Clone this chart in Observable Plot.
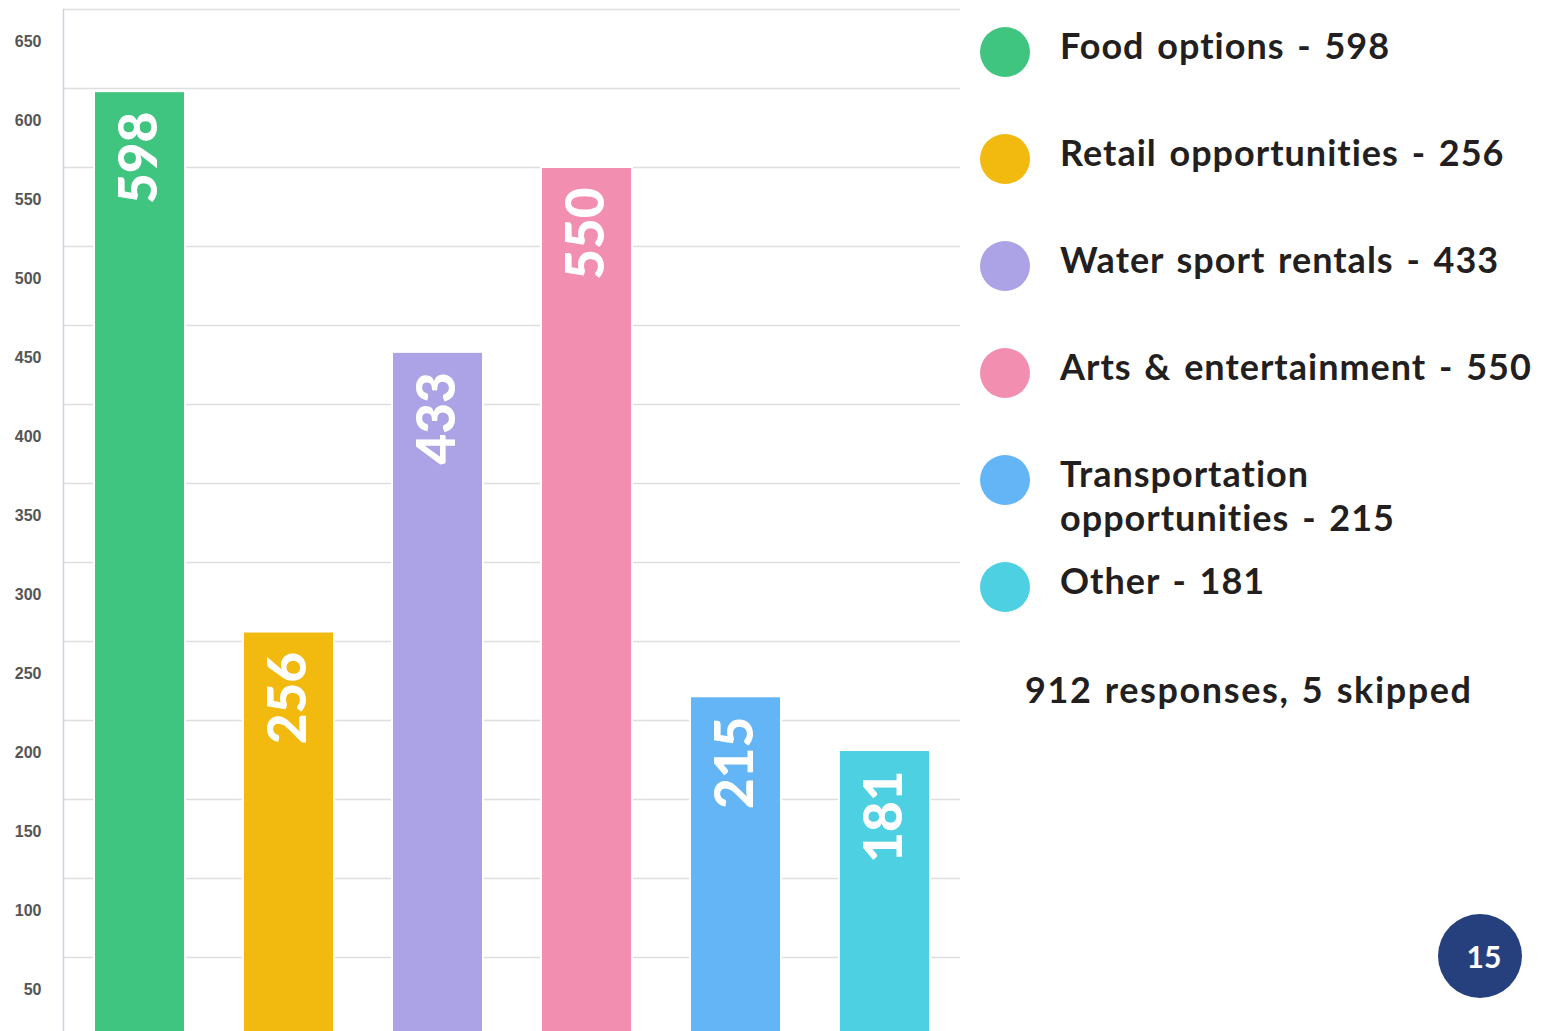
<!DOCTYPE html>
<html>
<head>
<meta charset="utf-8">
<script src="https://cdn.jsdelivr.net/npm/d3@7"></script>
<script src="https://cdn.jsdelivr.net/npm/@observablehq/plot@0.6"></script>
<style>
  html, body { margin: 0; padding: 0; background: #fff; }
  #wrap { position: relative; width: 1541px; height: 1031px; overflow: hidden; font-family: Lato, "Open Sans", sans-serif; }
  #chart { position: absolute; left: 0; top: 0; }
  .item { position: absolute; left: 980px; display: flex; align-items: flex-start; }
  .dot { width: 50px; height: 50px; border-radius: 50%; flex: none; }
  .lbl { margin-left: 30px; margin-top: -4px; width: 485px; font-size: 36px; line-height: 44px; font-weight: 700; color: #231f20; word-spacing: 3px; letter-spacing: 1px; }
  #resp { position: absolute; left: 1025px; top: 667px; font-size: 36px; line-height: 44px; font-weight: 700; color: #231f20; letter-spacing: 1.6px; word-spacing: 2px; }
  #page { position: absolute; left: 1438px; top: 914px; width: 84px; height: 84px; border-radius: 50%; background: #263f7d; color: #fff; font-size: 30px; font-weight: 700; display: flex; align-items: center; justify-content: center; padding-left: 8px; box-sizing: border-box; }
</style>
</head>
<body>
<div id="wrap">
  <div id="chart"></div>
  <div id="legend"></div>
  <div id="resp"></div>
  <div id="page"></div>
</div>
<script>
const categories = ["Food options", "Retail opportunities", "Water sport rentals", "Arts & entertainment", "Transportation opportunities", "Other"];
const values = [598, 256, 433, 550, 215, 181];
const colors = ["#40c580", "#f2b90f", "#aba3e5", "#f28fb0", "#64b5f6", "#4dd0e1"];
const yTicks = [50, 100, 150, 200, 250, 300, 350, 400, 450, 500, 550, 600, 650];
const responsesNote = "912 responses, 5 skipped";
const pageNumber = "15";

const data = categories.map((c, i) => ({cat: c, value: values[i]}));

const plot = Plot.plot({
  width: 1541,
  height: 1031,
  marginLeft: 63,
  marginRight: 581,
  marginTop: 9,
  marginBottom: 0,
  x: {domain: categories, range: [63, 960], paddingInner: 0.39, paddingOuter: 0.19, axis: null},
  y: {domain: [0, 650], range: [1036, 9], axis: null},
  color: {domain: categories, range: colors},
  marks: [
    Plot.gridY(yTicks, {stroke: "#dedede", strokeOpacity: 1, strokeWidth: 1.3}),
    Plot.barY(data, {x: "cat", y: "value", fill: "cat", stroke: "#ffffff", strokeWidth: 2}),
    Plot.text(data, {
      x: "cat", y: "value", text: d => String(d.value),
      rotate: -90, textAnchor: "end", lineAnchor: "middle", dy: 20,
      fill: "white", fontSize: 53, fontWeight: "900", fontFamily: "Lato, sans-serif",
      ariaLabel: "barlabels"
    }),
    Plot.axisY(yTicks, {
      anchor: "left", tickSize: 0, tickPadding: 22, dy: 32, label: null,
      fontSize: 16, fontWeight: "bold", fill: "#555", fontFamily: "'Liberation Sans', Arial, sans-serif"
    }),
    Plot.frame({anchor: "left", stroke: "#c5d3e8", strokeWidth: 1.5})
  ]
});
document.getElementById("chart").appendChild(plot);
d3.select(plot).selectAll('g[aria-label="barlabels"]').style("filter", "drop-shadow(2px 2px 4px rgba(0,0,0,0.5))");

const legend = d3.select("#legend");
categories.forEach((c, i) => {
  const item = legend.append("div").attr("class", "item").style("top", (27 + i * 107) + "px");
  item.append("div").attr("class", "dot").style("background", colors[i]);
  item.append("div").attr("class", "lbl").text(`${c} - ${values[i]}`);
});
document.getElementById("resp").textContent = responsesNote;
document.getElementById("page").textContent = pageNumber;
</script>
</body>
</html>
